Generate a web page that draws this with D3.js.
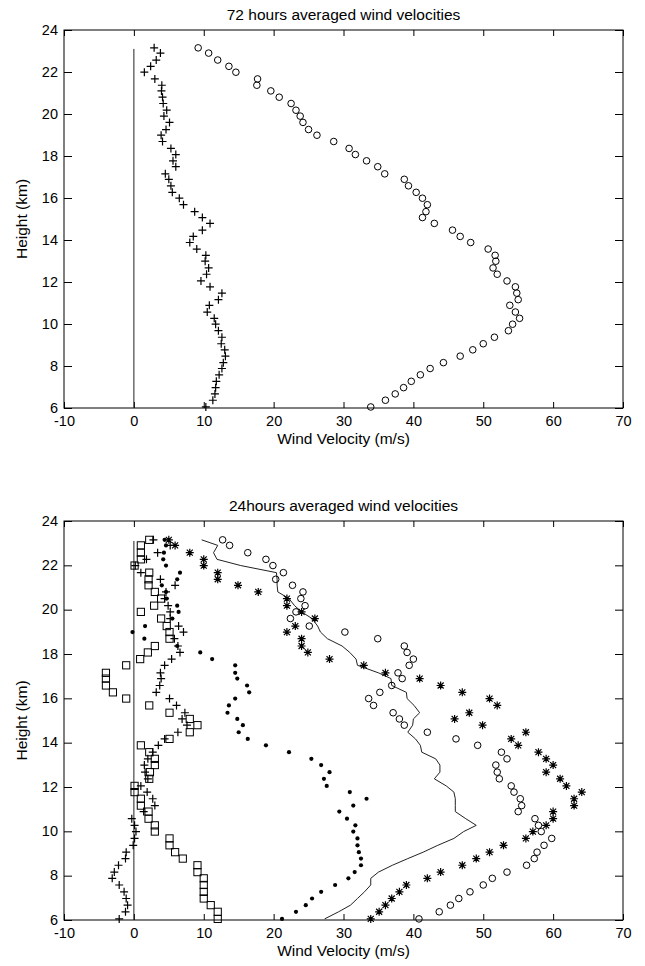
<!DOCTYPE html>
<html>
<head>
<meta charset="utf-8">
<script src="https://cdn.jsdelivr.net/npm/d3@7"></script>
<style>
  html, body { margin: 0; padding: 0; background: #fff; }
  svg { display: block; }
</style>
</head>
<body>
<svg id="chart" width="645" height="966"></svg>
<script>
// Measurement levels (km), shared by every profile
const heights = [6.05, 6.37, 6.67, 6.97, 7.27, 7.58, 7.88, 8.16, 8.47, 8.77,
  9.06, 9.37, 9.68, 9.99, 10.27, 10.57, 10.89, 11.16, 11.47, 11.77,
  12.05, 12.37, 12.67, 12.99, 13.27, 13.57, 13.88, 14.17, 14.47, 14.79,
  15.07, 15.35, 15.68, 15.99, 16.27, 16.58, 16.89, 17.15, 17.49, 17.77,
  18.07, 18.36, 18.69, 18.99, 19.26, 19.6, 19.9, 20.18, 20.5, 20.8,
  21.1, 21.37, 21.67, 21.99, 22.27, 22.57, 22.9, 23.15];

// 72-hour averages (m/s)
const plus72 = [10.3, 11.3, 11.6, 11.7, 11.8, 12.2, 12.6, 12.8, 13.1, 13.0,
  12.5, 12.6, 12.1, 11.7, 11.5, 10.5, 10.8, 12.1, 12.6, 10.9,
  9.6, 10.4, 10.7, 10.2, 10.3, 9.0, 8.0, 8.5, 9.8, 10.9,
  9.8, 8.7, 7.1, 6.5, 5.5, 5.3, 5.0, 4.5, 6.0, 5.6,
  6.0, 5.3, 4.1, 3.9, 4.6, 5.1, 4.3, 4.7, 4.2, 4.1,
  3.95, 4.0, 3.0, 1.5, 2.4, 3.2, 3.8, 2.9];
const circle72 = [33.9, 36.0, 37.4, 38.6, 39.7, 41.0, 42.4, 44.3, 46.7, 48.5,
  50.0, 51.6, 53.6, 54.2, 55.2, 54.6, 53.8, 55.0, 54.8, 54.6,
  53.4, 52.0, 51.4, 51.8, 51.7, 50.7, 48.2, 46.7, 45.6, 43.0,
  41.3, 41.8, 42.0, 41.3, 40.4, 39.3, 38.7, 35.9, 34.9, 33.3,
  31.7, 30.8, 28.6, 26.2, 25.0, 24.2, 23.8, 23.2, 22.5, 20.8,
  19.6, 17.6, 17.7, 14.6, 13.6, 12.0, 10.7, 9.2];

// 24-hour averages (m/s)
const square24 = [12.0, 12.0, 11.0, 10.0, 10.0, 10.0, 10.0, 9.1, 9.1, 7.0,
  5.9, 5.1, 5.1, 3.0, 3.0, 2.1, 2.1, 1.0, 1.0, 0.1,
  0.1, 2.2, 2.3, 3.0, 3.0, 2.2, 1.0, 5.1, 8.0, 9.1,
  8.0, 5.1, 2.2, -1.1, -3.0, -4.0, -4.0, -4.0, -1.1, 0.9,
  2.0, 3.0, 5.1, 5.1, 4.7, 3.9, 1.0, 2.9, 3.9, 3.0,
  2.1, 2.1, 2.2, 0.1, 1.0, 1.0, 1.0, 2.2];
const plus24 = [-2.1, -1.2, -0.9, -1.1, -1.4, -2.1, -3.1, -2.8, -2.2, -1.2,
  -1.1, -0.1, 0.1, 0.3, 0.1, -0.3, 1.4, 3.0, 2.7, 1.9,
  1.0, 2.0, 1.6, 1.5, 2.0, 2.7, 3.5, 4.4, 6.3, 7.6,
  6.9, 7.3, 6.1, 5.1, 3.2, 3.7, 3.9, 3.8, 4.4, 5.4,
  6.6, 6.3, 5.8, 7.1, 6.4, 5.2, 5.2, 4.9, 4.4, 4.6,
  5.9, 3.8, 1.0, 0.2, 1.8, 3.4, 5.2, 2.8];
const dot24 = [21.2, 23.2, 24.6, 25.5, 26.8, 28.8, 30.7, 31.6, 32.5, 32.5,
  32.2, 32.0, 32.0, 31.4, 31.7, 30.5, 29.4, 31.4, 33.3, 30.9,
  27.6, 27.2, 28.0, 26.8, 25.4, 22.2, 18.9, 16.3, 15.0, 15.6,
  14.8, 13.4, 13.6, 14.5, 16.5, 16.2, 14.8, 14.5, 14.5, 11.2,
  9.5, 6.2, 1.5, -0.2, 1.6, 5.5, 6.4, 6.2, 4.7, 4.6,
  4.0, 6.2, 6.6, 4.6, 4.2, 4.3, 4.6, 4.4];
const star24 = [33.9, 35.1, 36.0, 36.9, 38.0, 39.0, 42.0, 43.9, 47.0, 49.0,
  50.9, 52.9, 56.1, 57.1, 59.0, 60.0, 60.0, 63.0, 63.0, 64.1,
  61.9, 61.0, 59.0, 60.0, 59.0, 57.9, 55.0, 54.0, 56.1, 49.9,
  45.9, 48.0, 52.0, 50.9, 47.0, 43.9, 40.9, 36.0, 32.9, 28.0,
  24.9, 24.0, 24.0, 21.9, 23.1, 25.9, 24.0, 21.9, 21.9, 17.8,
  14.9, 12.0, 12.0, 10.0, 10.0, 8.0, 5.9, 5.0];
const circle24 = [40.8, 43.7, 45.3, 46.5, 48.1, 50.0, 51.3, 53.4, 56.2, 57.3,
  57.7, 58.7, 59.8, 58.3, 57.9, 57.4, 55.0, 55.5, 55.3, 54.4,
  54.0, 52.3, 52.0, 51.8, 53.4, 52.6, 49.2, 46.1, 42.0, 38.7,
  38.0, 37.1, 34.3, 33.6, 35.2, 36.9, 38.4, 37.8, 39.4, 40.0,
  39.1, 38.7, 34.9, 30.2, 25.1, 22.4, 23.2, 24.5, 23.9, 24.2,
  22.7, 20.3, 21.4, 19.9, 18.9, 16.3, 13.7, 12.7];
const mean24 = [27.3, 29.3, 31.0, 32.0, 33.0, 33.9, 33.9, 35.0, 37.0, 39.2,
  41.4, 43.5, 45.8, 47.2, 49.0, 47.5, 46.0, 46.0, 46.0, 45.8,
  44.7, 43.0, 43.8, 43.8, 43.2, 41.2, 41.0, 40.3, 39.2, 39.9,
  40.0, 40.9, 40.1, 39.1, 39.0, 36.9, 36.8, 35.0, 32.0, 31.8,
  30.9, 29.8, 27.7, 26.7, 26.3, 25.5, 24.0, 23.0, 22.2, 20.6,
  20.5, 20.5, 20.4, 15.3, 11.9, 11.4, 12.0, 9.7];

// Axis ticks and the zero reference line extent
const xTicks = [-10, 0, 10, 20, 30, 40, 50, 60, 70];
const yTicks = [6, 8, 10, 12, 14, 16, 18, 20, 22, 24];
const zeroLine = [6, 23.1];

const FONT = '"Liberation Sans", Arial, Helvetica, sans-serif';
const svg = d3.select("#chart");
svg.append("rect").attr("width", 645).attr("height", 966).attr("fill", "#fff");

const x = d3.scaleLinear().domain([-10, 70]).range([64, 623]);
const plain = d => String(d); // hyphen-minus, as printed on the axes

const shapes = {
  plus: "M-4,0H4M0,-4V4",
  star: "M-4,0H4M0,-4V4M-3,-3L3,3M-3,3L3,-3"
};

function zip(values) {
  return heights.map((h, i) => ({ h, v: values[i] }));
}

function panel(y, title) {
  const g = svg.append("g");
  const [yb, yt] = y.range();
  const [xl, xr] = x.range();

  const styleAxis = sel => {
    sel.select(".domain").remove();
    sel.selectAll(".tick line").attr("stroke", "#000").attr("stroke-width", 1);
    sel.selectAll("text").attr("font-family", FONT).attr("font-size", 14.5).attr("fill", "#000");
  };

  g.append("g").attr("transform", `translate(0,${yb})`)
    .call(d3.axisBottom(x).tickValues(xTicks).tickFormat(plain).tickSize(-6).tickSizeOuter(0).tickPadding(8))
    .call(styleAxis);
  g.append("g").attr("transform", `translate(0,${yt})`)
    .call(d3.axisTop(x).tickValues(xTicks).tickSize(-6).tickSizeOuter(0).tickFormat(""))
    .call(styleAxis);
  const left = g.append("g").attr("transform", `translate(${xl},0)`)
    .call(d3.axisLeft(y).tickValues(yTicks).tickFormat(plain).tickSize(-8).tickSizeOuter(0).tickPadding(6))
    .call(styleAxis);
  left.selectAll("text").attr("dy", "0.28em");
  g.append("g").attr("transform", `translate(${xr},0)`)
    .call(d3.axisRight(y).tickValues(yTicks).tickSize(-8).tickSizeOuter(0).tickFormat(""))
    .call(styleAxis);

  g.append("rect")
    .attr("x", xl).attr("y", yt).attr("width", xr - xl).attr("height", yb - yt)
    .attr("fill", "none").attr("stroke", "#000").attr("stroke-width", 1);

  g.append("text")
    .attr("x", (xl + xr) / 2).attr("y", yt - 10.5)
    .attr("text-anchor", "middle").attr("font-family", FONT).attr("font-size", 15.5)
    .text(title);
  g.append("text")
    .attr("x", (xl + xr) / 2).attr("y", yb + 36)
    .attr("text-anchor", "middle").attr("font-family", FONT).attr("font-size", 15.5)
    .text("Wind Velocity (m/s)");
  g.append("text")
    .attr("transform", `translate(27,${(yb + yt) / 2}) rotate(-90)`)
    .attr("text-anchor", "middle").attr("font-family", FONT).attr("font-size", 15.5)
    .text("Height (km)");

  // vertical reference line at zero velocity
  g.append("line")
    .attr("x1", x(0)).attr("x2", x(0))
    .attr("y1", y(zeroLine[0])).attr("y2", y(zeroLine[1]))
    .attr("stroke", "#222").attr("stroke-width", 1);

  return g;
}

function drawPath(g, y, values, kind) {
  g.append("g").selectAll("path").data(zip(values)).join("path")
    .attr("transform", d => `translate(${x(d.v)},${y(d.h)})`)
    .attr("d", shapes[kind])
    .attr("fill", "none").attr("stroke", "#000").attr("stroke-width", 1.2);
}
function drawCircles(g, y, values) {
  g.append("g").selectAll("circle").data(zip(values)).join("circle")
    .attr("cx", d => x(d.v)).attr("cy", d => y(d.h)).attr("r", 3.3)
    .attr("fill", "none").attr("stroke", "#000").attr("stroke-width", 1);
}
function drawDots(g, y, values) {
  g.append("g").selectAll("circle").data(zip(values)).join("circle")
    .attr("cx", d => x(d.v)).attr("cy", d => y(d.h)).attr("r", 2.1)
    .attr("fill", "#000");
}
function drawSquares(g, y, values) {
  g.append("g").selectAll("rect").data(zip(values)).join("rect")
    .attr("x", d => x(d.v) - 3.6).attr("y", d => y(d.h) - 3.6)
    .attr("width", 7.2).attr("height", 7.2)
    .attr("fill", "none").attr("stroke", "#000").attr("stroke-width", 1);
}

// Upper panel: 72 hours
const yTop = d3.scaleLinear().domain([6, 24]).range([408, 30]);
const gTop = panel(yTop, "72 hours averaged wind velocities");
drawPath(gTop, yTop, plus72, "plus");
drawCircles(gTop, yTop, circle72);

// Lower panel: 24 hours
const yBot = d3.scaleLinear().domain([6, 24]).range([920, 521]);
const gBot = panel(yBot, "24hours averaged wind velocities");
gBot.append("path")
  .datum(zip(mean24))
  .attr("d", d3.line().x(d => x(d.v)).y(d => yBot(d.h)))
  .attr("fill", "none").attr("stroke", "#222").attr("stroke-width", 1);
drawSquares(gBot, yBot, square24);
drawPath(gBot, yBot, plus24, "plus");
drawDots(gBot, yBot, dot24);
drawPath(gBot, yBot, star24, "star");
drawCircles(gBot, yBot, circle24);
</script>
</body>
</html>
